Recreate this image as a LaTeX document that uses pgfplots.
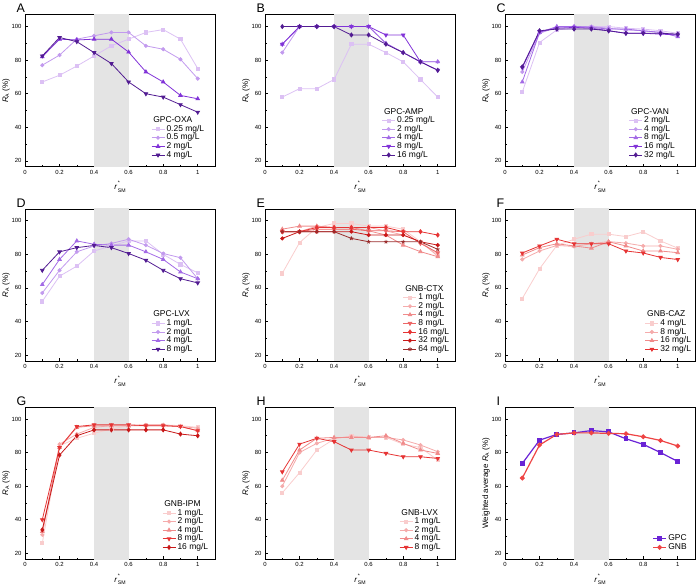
\documentclass[border=0pt]{standalone}
\usepackage{pgfplots}
\pgfplotsset{compat=1.18}
\usepackage{fontspec}
\setmainfont{Liberation Sans}

% background band for the optimal ratio window
\definecolor{shade}{HTML}{E4E4E4}
% purple ramp (GPC)
\definecolor{pu1}{HTML}{DCC1F4}
\definecolor{pu2}{HTML}{C29AEE}
\definecolor{pu3}{HTML}{A36AE6}
\definecolor{pu4}{HTML}{8133D8}
\definecolor{pu5}{HTML}{521C92}
% red ramp (GNB)
\definecolor{rd1}{HTML}{F9CDCD}
\definecolor{rd2}{HTML}{F5ABAB}
\definecolor{rd3}{HTML}{F08B8B}
\definecolor{rd4}{HTML}{EC6666}
\definecolor{rd5}{HTML}{E63434}
\definecolor{rd6}{HTML}{C81818}
\definecolor{rd7}{HTML}{9A2C2C}
\definecolor{gpc}{HTML}{6A23D6}
\definecolor{gnb}{HTML}{EE4444}

\newcommand{\sfsub}[1]{\mbox{\fontsize{5.2}{5.2}\selectfont #1}}
\newcommand{\RA}{\textit{R}$_{\sfsub{A}}$}
% r* with SM subscript, star and subscript stacked by hand
\newcommand{\rsm}{\textit{r}\kern0.8bp\makebox[0pt][l]{\raisebox{4.8bp}{\sfsub{*}}}\raisebox{-2.6bp}{\sfsub{SM}}}
\newcommand{\legtitle}[1]{\addlegendimage{empty legend}\addlegendentry{\hspace{-13.2bp}#1}}

\pgfplotsset{
  panel/.style={
    scale only axis, width=190bp, height=152bp,
    xmin=0, xmax=1.1, ymin=16.5, ymax=107,
    xtick={0,0.2,0.4,0.6,0.8,1}, xticklabels={0,0.2,0.4,0.6,0.8,1},
    ytick={20,40,60,80,100}, yticklabels={20,40,60,80,100},
    minor x tick num=1, minor y tick num=1,
    tick align=inside, tick pos=left,
    major tick length=3bp, minor tick length=1.6bp,
    /pgf/number format/assume math mode=true,
    tick label style={font=\fontsize{6}{6.5}\selectfont},
    axis line style={line width=0.7bp},
    tick style={line width=0.6bp, black},
    xlabel={\rsm}, ylabel={\RA\ (\%)},
    label style={font=\fontsize{8}{9}\selectfont},
    xlabel style={at={(rel axis cs:0.5,0)}, yshift=-20bp, anchor=center},
    ylabel style={at={(rel axis cs:0,0.5)}, yshift=19bp, anchor=center},
    legend cell align=left,
    legend style={draw=none, fill=none, font=\fontsize{8.5}{8.5}\selectfont,
      anchor=south west, row sep=0pt, column sep=1bp,
      nodes={inner sep=0.6bp, text height=5.8bp, text depth=1.6bp}},
    legend image code/.code={\draw[mark repeat=2,mark phase=2]
      plot coordinates {(0bp,0bp) (6.5bp,0bp) (13bp,0bp)};},
    every axis plot/.append style={line width=0.8bp, mark size=1.6bp},
  },
  m1/.style={mark=square*},
  m2/.style={mark=*},
  m3/.style={mark=triangle*, mark size=2bp},
  m4/.style={mark=triangle*, mark options={rotate=180}, mark size=2bp},
  m5/.style={mark=diamond*, mark size=2bp},
  m7/.style={mark=star, mark size=2bp},
  band/.style={draw=none, fill=shade, forget plot},
}

\newcommand{\band}{\addplot[band] coordinates {(0.4,10) (0.6,10) (0.6,110) (0.4,110)} -- cycle;}
\newcommand{\letter}[2]{\node[anchor=base west, font=\fontsize{12.5}{12.5}\selectfont] at ([xshift=-12bp,yshift=2bp]#1.north west) {#2};}

\begin{document}
\begin{tikzpicture}
\useasboundingbox (0,0) rectangle (696bp,585bp);

% ---------------- A: GPC-OXA
\begin{axis}[panel, name=pA, at={(25bp,418.2bp)}, anchor=south west,
  legend style={at={(rel axis cs:0.647,0.035)}}]
\band
\legtitle{GPC-OXA}
\addplot[pu1, m1] coordinates {(0.1,67)(0.2,71)(0.3,76.5)(0.4,82.5)(0.5,88.5)(0.6,92.5)(0.7,96.5)(0.8,98.2)(0.9,92.5)(1,75)};
\addlegendentry{0.25 mg/L}
\addplot[pu2, m2] coordinates {(0.1,77)(0.2,83)(0.3,92.5)(0.4,94.5)(0.5,96.5)(0.6,96.5)(0.7,88.5)(0.8,86.5)(0.9,80.5)(1,69)};
\addlegendentry{0.5 mg/L}
\addplot[pu4, m3] coordinates {(0.1,82)(0.2,92.5)(0.3,92)(0.4,92.5)(0.5,92.5)(0.6,84.8)(0.7,73)(0.8,67)(0.9,59)(1,57)};
\addlegendentry{2 mg/L}
\addplot[pu5, m4] coordinates {(0.1,82.5)(0.2,93.5)(0.3,91)(0.4,84.5)(0.5,78)(0.6,67)(0.7,60)(0.8,58)(0.9,53.5)(1,49)};
\addlegendentry{4 mg/L}
\end{axis}
\letter{pA}{A}

% ---------------- B: GPC-AMP
\begin{axis}[panel, name=pB, at={(265bp,418.2bp)}, anchor=south west,
  legend style={at={(rel axis cs:0.598,0.035)}}]
\band
\legtitle{GPC-AMP}
\addplot[pu1, m1] coordinates {(0.1,58)(0.2,63)(0.3,63)(0.4,68.5)(0.5,89.5)(0.6,89.5)(0.7,84.5)(0.8,79)(0.9,68.5)(1,58)};
\addlegendentry{0.25 mg/L}
\addplot[pu2, m2] coordinates {(0.1,84.5)(0.2,100)(0.3,100)(0.4,100)(0.5,100)(0.6,100)(0.7,90)(0.8,84.5)(0.9,79)(1,79)};
\addlegendentry{2 mg/L}
\addplot[pu3, m3] coordinates {(0.1,89.5)(0.2,100)(0.3,100)(0.4,100)(0.5,100)(0.6,100)(0.7,90)(0.8,84.5)(0.9,79)(1,79)};
\addlegendentry{4 mg/L}
\addplot[pu4, m4] coordinates {(0.1,89.5)(0.2,100)(0.3,100)(0.4,100)(0.5,100)(0.6,100)(0.7,95)(0.8,95)(0.9,79)(1,74)};
\addlegendentry{8 mg/L}
\addplot[pu5, m5] coordinates {(0.1,100)(0.2,100)(0.3,100)(0.4,100)(0.5,95)(0.6,95)(0.7,89.5)(0.8,84.5)(0.9,79)(1,74)};
\addlegendentry{16 mg/L}
\end{axis}
\letter{pB}{B}

% ---------------- C: GPC-VAN
\begin{axis}[panel, name=pC, at={(505bp,418.2bp)}, anchor=south west,
  legend style={at={(rel axis cs:0.635,0.035)}}]
\band
\legtitle{GPC-VAN}
\addplot[pu1, m1] coordinates {(0.1,61)(0.2,90.5)(0.3,98)(0.4,99)(0.5,100)(0.6,100)(0.7,99)(0.8,98.5)(0.9,97.5)(1,96)};
\addlegendentry{2 mg/L}
\addplot[pu2, m2] coordinates {(0.1,73)(0.2,96)(0.3,99.5)(0.4,100)(0.5,100)(0.6,99)(0.7,98)(0.8,97.5)(0.9,96.5)(1,95)};
\addlegendentry{4 mg/L}
\addplot[pu3, m3] coordinates {(0.1,67)(0.2,96.5)(0.3,100)(0.4,100)(0.5,99.5)(0.6,98.5)(0.7,98.5)(0.8,97.5)(0.9,96.5)(1,94)};
\addlegendentry{8 mg/L}
\addplot[pu4, m4] coordinates {(0.1,75.5)(0.2,97)(0.3,99)(0.4,99.5)(0.5,99)(0.6,97.5)(0.7,96)(0.8,96)(0.9,95.5)(1,95)};
\addlegendentry{16 mg/L}
\addplot[pu5, m5] coordinates {(0.1,76)(0.2,97.5)(0.3,98.5)(0.4,98.5)(0.5,98.5)(0.6,97.5)(0.7,96)(0.8,96)(0.9,96)(1,95.5)};
\addlegendentry{32 mg/L}
\end{axis}
\letter{pC}{C}

% ---------------- D: GPC-LVX
\begin{axis}[panel, name=pD, at={(25bp,224bp)}, anchor=south west,
  legend style={at={(rel axis cs:0.647,0.035)}}]
\band
\legtitle{GPC-LVX}
\addplot[pu1, m1] coordinates {(0.1,52)(0.2,67)(0.3,73)(0.4,82)(0.5,85)(0.6,88)(0.7,88)(0.8,80)(0.9,74)(1,69)};
\addlegendentry{1 mg/L}
\addplot[pu2, m2] coordinates {(0.1,57)(0.2,70.5)(0.3,81.5)(0.4,85)(0.5,86.5)(0.6,89)(0.7,85.5)(0.8,80.5)(0.9,78)(1,65.5)};
\addlegendentry{2 mg/L}
\addplot[pu3, m3] coordinates {(0.1,62)(0.2,77)(0.3,88)(0.4,86)(0.5,85.5)(0.6,85.5)(0.7,81.5)(0.8,77)(0.9,69.5)(1,65.5)};
\addlegendentry{4 mg/L}
\addplot[pu5, m4] coordinates {(0.1,70.5)(0.2,81.5)(0.3,84)(0.4,85.3)(0.5,84)(0.6,80.5)(0.7,76.5)(0.8,70.5)(0.9,65.5)(1,63)};
\addlegendentry{8 mg/L}
\end{axis}
\letter{pD}{D}

% ---------------- E: GNB-CTX
\begin{axis}[panel, name=pE, at={(265bp,224bp)}, anchor=south west,
  legend style={at={(rel axis cs:0.71,0.035)}}]
\band
\legtitle{GNB-CTX}
\addplot[rd1, m1] coordinates {(0.1,68.7)(0.2,87)(0.3,96)(0.4,98.4)(0.5,98.4)(0.6,96.8)(0.7,96.8)(0.8,95)(0.9,87.5)(1,80)};
\addlegendentry{1 mg/L}
\addplot[rd2, m2] coordinates {(0.1,93.5)(0.2,93.5)(0.3,96.8)(0.4,96)(0.5,96)(0.6,96)(0.7,94)(0.8,91.5)(0.9,87.5)(1,79)};
\addlegendentry{2 mg/L}
\addplot[rd3, m3] coordinates {(0.1,95)(0.2,96.8)(0.3,96.8)(0.4,96)(0.5,96)(0.6,94)(0.7,91.5)(0.8,85.5)(0.9,81.6)(1,78.6)};
\addlegendentry{4 mg/L}
\addplot[rd4, m4] coordinates {(0.1,93.5)(0.2,93.5)(0.3,95)(0.4,95)(0.5,95)(0.6,94)(0.7,94)(0.8,93.5)(0.9,86.5)(1,81)};
\addlegendentry{8 mg/L}
\addplot[rd5, m5] coordinates {(0.1,93.5)(0.2,93.5)(0.3,96)(0.4,96)(0.5,96)(0.6,96)(0.7,96)(0.8,93.5)(0.9,93.5)(1,91.5)};
\addlegendentry{16 mg/L}
\addplot[rd6, m2] coordinates {(0.1,89.5)(0.2,93.5)(0.3,93.5)(0.4,93.5)(0.5,93.5)(0.6,91.5)(0.7,91.5)(0.8,91.5)(0.9,87.5)(1,85.5)};
\addlegendentry{32 mg/L}
\addplot[rd7, m7] coordinates {(0.1,93.5)(0.2,93.5)(0.3,93.5)(0.4,93.5)(0.5,89.5)(0.6,87.5)(0.7,87.5)(0.8,87.5)(0.9,87.5)(1,83)};
\addlegendentry{64 mg/L}
\end{axis}
\letter{pE}{E}

% ---------------- F: GNB-CAZ
\begin{axis}[panel, name=pF, at={(505bp,224bp)}, anchor=south west,
  legend style={at={(rel axis cs:0.72,0.035)}}]
\band
\legtitle{GNB-CAZ}
\addplot[rd1, m1] coordinates {(0.1,53.7)(0.2,71.4)(0.3,85.3)(0.4,89)(0.5,92)(0.6,92)(0.7,90.6)(0.8,93.3)(0.9,88)(1,83.7)};
\addlegendentry{4 mg/L}
\addplot[rd2, m2] coordinates {(0.1,77)(0.2,82)(0.3,85.3)(0.4,84.7)(0.5,86.3)(0.6,87.6)(0.7,86.7)(0.8,85)(0.9,85)(1,83)};
\addlegendentry{8 mg/L}
\addplot[rd3, m3] coordinates {(0.1,79.6)(0.2,84)(0.3,86.3)(0.4,85)(0.5,83.7)(0.6,87.5)(0.7,85)(0.8,82)(0.9,82)(1,81)};
\addlegendentry{16 mg/L}
\addplot[rd5, m4] coordinates {(0.1,80.8)(0.2,85)(0.3,89)(0.4,86.3)(0.5,86.3)(0.6,86.3)(0.7,82)(0.8,80.8)(0.9,78.2)(1,76.9)};
\addlegendentry{32 mg/L}
\end{axis}
\letter{pF}{F}

% ---------------- G: GNB-IPM
\begin{axis}[panel, name=pG, at={(25bp,25.8bp)}, anchor=south west,
  legend style={at={(rel axis cs:0.705,0.035)}}]
\band
\legtitle{GNB-IPM}
\addplot[rd1, m1] coordinates {(0.1,26)(0.2,84)(0.3,88.5)(0.4,91.5)(0.5,94)(0.6,96)(0.7,96.5)(0.8,96.5)(0.9,96)(1,95)};
\addlegendentry{1 mg/L}
\addplot[rd2, m2] coordinates {(0.1,31)(0.2,85)(0.3,91)(0.4,95)(0.5,96)(0.6,96)(0.7,96.5)(0.8,96.5)(0.9,95.5)(1,94.5)};
\addlegendentry{2 mg/L}
\addplot[rd3, m3] coordinates {(0.1,33)(0.2,83)(0.3,95)(0.4,96)(0.5,96)(0.6,96)(0.7,96)(0.8,96)(0.9,95.5)(1,93)};
\addlegendentry{4 mg/L}
\addplot[rd5, m4] coordinates {(0.1,40)(0.2,83)(0.3,95.5)(0.4,96.5)(0.5,96.5)(0.6,96.5)(0.7,96)(0.8,96)(0.9,95.5)(1,93)};
\addlegendentry{8 mg/L}
\addplot[rd6, m5] coordinates {(0.1,34)(0.2,78.5)(0.3,90)(0.4,93.5)(0.5,93.5)(0.6,93.5)(0.7,93.5)(0.8,93.5)(0.9,91)(1,90)};
\addlegendentry{16 mg/L}
\end{axis}
\letter{pG}{G}

% ---------------- H: GNB-LVX
\begin{axis}[panel, name=pH, at={(265bp,25.8bp)}, anchor=south west,
  legend style={at={(rel axis cs:0.69,0.035)}}]
\band
\legtitle{GNB-LVX}
\addplot[rd1, m1] coordinates {(0.1,56)(0.2,68)(0.3,81.5)(0.4,88)(0.5,90)(0.6,89)(0.7,89)(0.8,85)(0.9,83)(1,75.5)};
\addlegendentry{1 mg/L}
\addplot[rd2, m2] coordinates {(0.1,60)(0.2,80)(0.3,85.5)(0.4,88.5)(0.5,89.5)(0.6,89)(0.7,89)(0.8,87.5)(0.9,84.5)(1,80.5)};
\addlegendentry{2 mg/L}
\addplot[rd3, m3] coordinates {(0.1,63.5)(0.2,81.5)(0.3,88.5)(0.4,89)(0.5,89)(0.6,89)(0.7,90)(0.8,85.5)(0.9,81.5)(1,79.5)};
\addlegendentry{4 mg/L}
\addplot[rd5, m4] coordinates {(0.1,68.5)(0.2,85)(0.3,88.5)(0.4,86.5)(0.5,81.5)(0.6,81.5)(0.7,79.5)(0.8,77.5)(0.9,77.5)(1,76.5)};
\addlegendentry{8 mg/L}
\end{axis}
\letter{pH}{H}

% ---------------- I: weighted averages
\begin{axis}[panel, name=pI, at={(505bp,25.8bp)}, anchor=south west,
  ylabel={Weighted average \RA\ (\%)},
  every axis plot/.append style={line width=1.2bp, mark size=1.8bp},
  legend style={at={(rel axis cs:0.76,0.035)}}]
\band
\addplot[gpc, m1] coordinates {(0.1,73.5)(0.2,87.4)(0.3,90.8)(0.4,91.7)(0.5,93.1)(0.6,92.3)(0.7,88.2)(0.8,84.9)(0.9,80)(1,74.7)};
\addlegendentry{GPC}
\addplot[gnb, m2] coordinates {(0.1,64.8)(0.2,84.5)(0.3,90.8)(0.4,91.7)(0.5,91.7)(0.6,91.4)(0.7,91.2)(0.8,89.4)(0.9,87.2)(1,83.9)};
\addlegendentry{GNB}
\end{axis}
\letter{pI}{I}
\end{tikzpicture}
\end{document}
